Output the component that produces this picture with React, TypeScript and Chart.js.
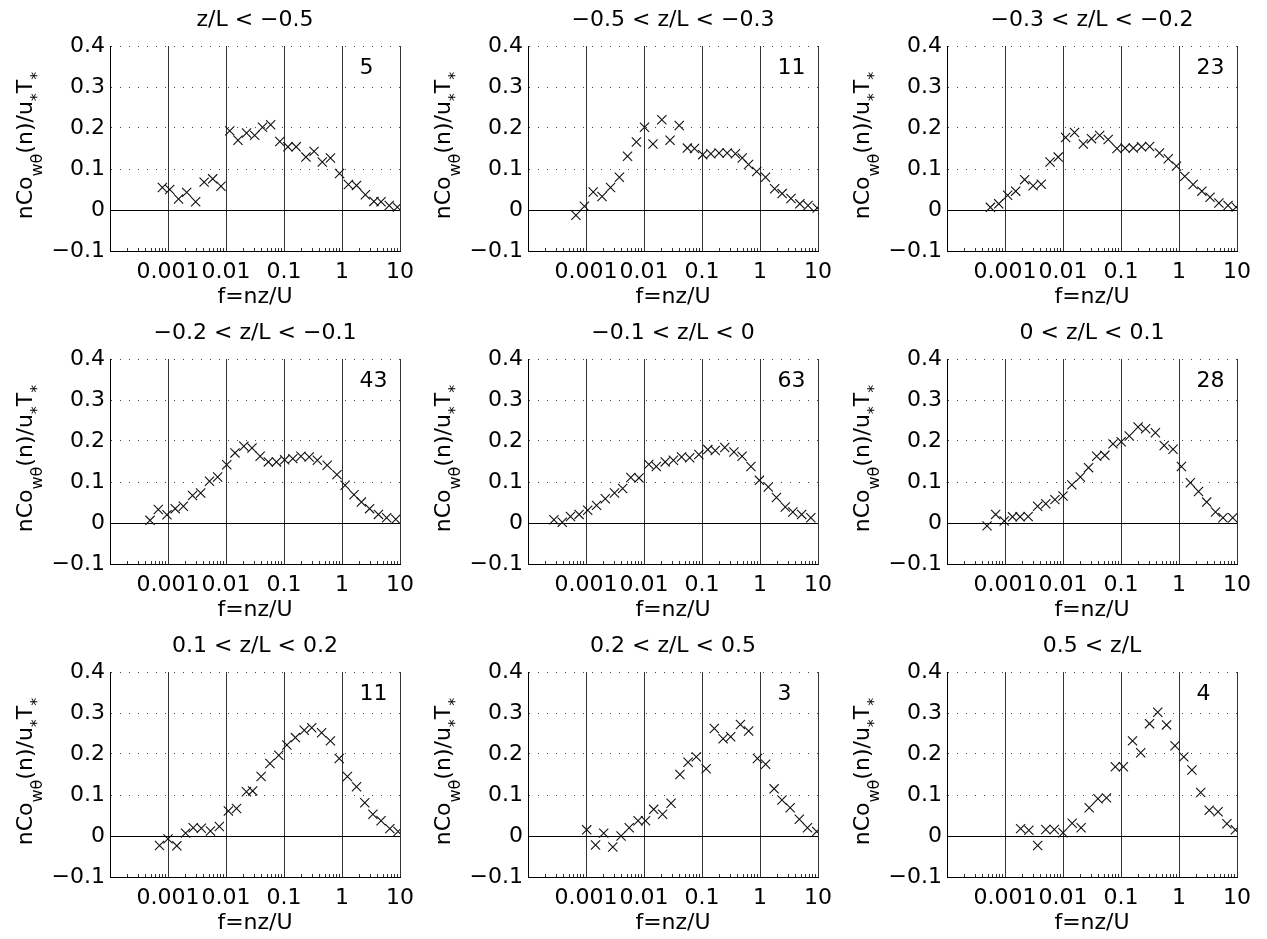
import React, { useEffect, useRef } from "react";
import { Chart, registerables } from "chart.js";

Chart.register(...registerables);

// ---------------- data ----------------
const titles = [
  "z/L < −0.5",
  "−0.5 < z/L < −0.3",
  "−0.3 < z/L < −0.2",
  "−0.2 < z/L < −0.1",
  "−0.1 < z/L < 0",
  "0 < z/L < 0.1",
  "0.1 < z/L < 0.2",
  "0.2 < z/L < 0.5",
  "0.5 < z/L",
];
const counts = [5, 11, 23, 43, 63, 28, 11, 3, 4];

const xTickValues = [0.0001, 0.001, 0.01, 0.1, 1, 10];
const xTickLabels = ["", "0.001", "0.01", "0.1", "1", "10"];
const yTickValues = [-0.1, 0, 0.1, 0.2, 0.3, 0.4];
const yTickLabels = ["−0.1", "0", "0.1", "0.2", "0.3", "0.4"];

const freq1 = [0.0008, 0.00107, 0.00152, 0.0021, 0.003, 0.0042, 0.0059, 0.0082, 0.0116, 0.0161, 0.0226, 0.0312, 0.0426, 0.0589, 0.0847, 0.117, 0.162, 0.239, 0.33, 0.457, 0.632, 0.908, 1.29, 1.78, 2.53, 3.55, 4.71, 6.52, 9.02];
const co1 = [0.055, 0.05, 0.027, 0.043, 0.02, 0.068, 0.076, 0.058, 0.193, 0.17, 0.188, 0.182, 0.202, 0.208, 0.167, 0.154, 0.154, 0.129, 0.143, 0.117, 0.127, 0.089, 0.062, 0.06, 0.037, 0.021, 0.02, 0.011, 0.007];

const freq2 = [0.00067, 0.00094, 0.00133, 0.00189, 0.00265, 0.00376, 0.0052, 0.0074, 0.0102, 0.0143, 0.0203, 0.0281, 0.0405, 0.0559, 0.0743, 0.103, 0.142, 0.197, 0.272, 0.377, 0.494, 0.634, 0.877, 1.245, 1.79, 2.41, 3.42, 4.86, 6.73, 9.67];
const co2 = [-0.013, 0.009, 0.044, 0.033, 0.055, 0.08, 0.131, 0.166, 0.202, 0.161, 0.22, 0.17, 0.206, 0.151, 0.15, 0.135, 0.137, 0.139, 0.139, 0.137, 0.127, 0.111, 0.094, 0.08, 0.052, 0.04, 0.028, 0.015, 0.011, 0.005];

const freq3 = [0.00056, 0.00078, 0.00111, 0.00153, 0.00218, 0.00305, 0.00422, 0.00598, 0.00827, 0.0111, 0.0158, 0.0224, 0.031, 0.0429, 0.0601, 0.0853, 0.118, 0.163, 0.226, 0.312, 0.46, 0.653, 0.904, 1.26, 1.75, 2.48, 3.43, 4.87, 7.0, 9.68];
const co3 = [0.0065, 0.015, 0.036, 0.046, 0.074, 0.059, 0.063, 0.117, 0.129, 0.177, 0.189, 0.161, 0.174, 0.182, 0.172, 0.15, 0.151, 0.151, 0.154, 0.155, 0.139, 0.125, 0.107, 0.082, 0.062, 0.046, 0.031, 0.017, 0.011, 0.007];

const freq4 = [0.00049, 0.00068, 0.00096, 0.00133, 0.00184, 0.00265, 0.00366, 0.00519, 0.00718, 0.0103, 0.0143, 0.0203, 0.0281, 0.0388, 0.0537, 0.0741, 0.1026, 0.142, 0.196, 0.272, 0.376, 0.555, 0.818, 1.13, 1.61, 2.16, 2.99, 4.25, 5.88, 8.45];
const co4 = [0.0065, 0.033, 0.02, 0.035, 0.041, 0.067, 0.073, 0.102, 0.112, 0.142, 0.171, 0.187, 0.183, 0.163, 0.149, 0.149, 0.154, 0.157, 0.163, 0.161, 0.153, 0.141, 0.118, 0.092, 0.069, 0.051, 0.035, 0.021, 0.013, 0.009];

const freq5 = [0.00028, 0.00039, 0.00054, 0.00076, 0.00107, 0.00152, 0.00215, 0.0031, 0.00429, 0.00593, 0.0082, 0.0121, 0.0163, 0.0232, 0.0321, 0.0444, 0.0614, 0.0883, 0.126, 0.169, 0.247, 0.355, 0.491, 0.697, 0.977, 1.39, 1.92, 2.73, 3.68, 5.23, 7.52];
const co5 = [0.008, 0.002, 0.016, 0.021, 0.031, 0.043, 0.059, 0.073, 0.084, 0.111, 0.11, 0.143, 0.138, 0.149, 0.153, 0.161, 0.159, 0.167, 0.179, 0.177, 0.184, 0.173, 0.163, 0.138, 0.104, 0.088, 0.062, 0.039, 0.027, 0.021, 0.013];

const freq6 = [0.00049, 0.00069, 0.00097, 0.00135, 0.00182, 0.00251, 0.00365, 0.00505, 0.00726, 0.01, 0.0142, 0.0199, 0.0276, 0.0381, 0.0527, 0.0728, 0.1007, 0.139, 0.197, 0.266, 0.392, 0.556, 0.789, 1.1, 1.57, 2.17, 3.0, 4.26, 5.73, 8.45];
const co6 = [-0.007, 0.021, 0.005, 0.015, 0.015, 0.016, 0.041, 0.047, 0.057, 0.066, 0.093, 0.112, 0.135, 0.163, 0.165, 0.193, 0.198, 0.212, 0.234, 0.23, 0.22, 0.189, 0.18, 0.138, 0.098, 0.077, 0.051, 0.027, 0.013, 0.013];

const freq7 = [0.000714, 0.001, 0.00142, 0.00201, 0.00272, 0.00376, 0.0054, 0.00767, 0.011, 0.0152, 0.0225, 0.0288, 0.0403, 0.0573, 0.0813, 0.112, 0.157, 0.223, 0.301, 0.445, 0.631, 0.895, 1.24, 1.78, 2.47, 3.41, 4.71, 6.68, 9.25];
const co7 = [-0.023, -0.007, -0.024, 0.007, 0.02, 0.019, 0.012, 0.023, 0.061, 0.067, 0.108, 0.11, 0.145, 0.177, 0.197, 0.222, 0.24, 0.258, 0.264, 0.252, 0.232, 0.189, 0.145, 0.12, 0.081, 0.053, 0.037, 0.018, 0.011];

const freq8 = [0.00103, 0.00146, 0.00202, 0.0029, 0.00402, 0.00556, 0.00789, 0.01064, 0.0147, 0.0209, 0.0293, 0.0416, 0.0575, 0.0796, 0.118, 0.163, 0.231, 0.312, 0.46, 0.637, 0.904, 1.25, 1.75, 2.39, 3.31, 4.76, 6.59, 9.48];
const co8 = [0.015, -0.022, 0.007, -0.027, 0.0, 0.02, 0.037, 0.037, 0.065, 0.053, 0.08, 0.15, 0.18, 0.193, 0.164, 0.262, 0.237, 0.242, 0.272, 0.256, 0.189, 0.175, 0.115, 0.088, 0.069, 0.041, 0.02, 0.011];

const freq9 = [0.00186, 0.00258, 0.00366, 0.00505, 0.00708, 0.01, 0.0144, 0.0205, 0.0283, 0.0401, 0.0562, 0.0798, 0.11, 0.158, 0.219, 0.31, 0.43, 0.61, 0.853, 1.21, 1.67, 2.37, 3.32, 4.72, 6.7, 9.38];
const co9 = [0.018, 0.014, -0.023, 0.016, 0.016, 0.008, 0.031, 0.02, 0.069, 0.091, 0.093, 0.169, 0.169, 0.232, 0.203, 0.274, 0.302, 0.271, 0.22, 0.193, 0.161, 0.106, 0.063, 0.059, 0.03, 0.015];

const freqs = [freq1, freq2, freq3, freq4, freq5, freq6, freq7, freq8, freq9];
const cos = [co1, co2, co3, co4, co5, co6, co7, co8, co9];

// position of the sample-count annotation, in data units
const COUNT_X = 2.0;
const COUNT_Y = 0.346;

// ---------------- layout / style ----------------
const FONT = '"DejaVu Sans", "Liberation Sans", sans-serif';
const FS = 22;
const PLOT_LEFT = [110, 528, 947];
const PLOT_TOP = [46, 359, 672];
const PLOT_W = 296;
const PLOT_H = 205;
const Y_AXIS_W = 110;
const TITLE_H = 46;
const X_AXIS_H = 60;
const RIGHT_PAD = 16;

function drawYTitle(ctx: CanvasRenderingContext2D, baseX: number, cy: number) {
  const runs = [
    { t: "nCo", sub: false },
    { t: "wθ", sub: true },
    { t: "(n)/u", sub: false },
    { t: "*", sub: true },
    { t: "T", sub: false },
    { t: "*", sub: true },
  ];
  const mainFont = `${FS}px ${FONT}`;
  const subFont = `16px ${FONT}`;
  ctx.save();
  let total = 0;
  const widths = runs.map((r) => {
    ctx.font = r.sub ? subFont : mainFont;
    const w = ctx.measureText(r.t).width;
    total += w;
    return w;
  });
  ctx.translate(baseX, cy);
  ctx.rotate(-Math.PI / 2);
  ctx.fillStyle = "#000";
  ctx.textAlign = "left";
  ctx.textBaseline = "alphabetic";
  let x = -total / 2;
  runs.forEach((r, i) => {
    ctx.font = r.sub ? subFont : mainFont;
    ctx.fillText(r.t, x, r.sub ? 10 : 0);
    x += widths[i];
  });
  ctx.restore();
}

function makeDecor(count: number) {
  return {
    id: "decor",
    beforeDatasetsDraw(chart: any) {
      const { ctx, chartArea, scales } = chart;
      const xs = scales.x;
      const ys = scales.y;
      ctx.save();
      // minor log ticks (inward) along the bottom axis
      ctx.strokeStyle = "#333";
      ctx.lineWidth = 1;
      ctx.beginPath();
      for (let k = -4; k <= 0; k++) {
        for (let m = 2; m <= 9; m++) {
          const px = Math.round(xs.getPixelForValue(m * Math.pow(10, k))) + 0.5;
          ctx.moveTo(px, chartArea.bottom);
          ctx.lineTo(px, chartArea.bottom - 3);
        }
      }
      ctx.stroke();
      // zero line
      const y0 = Math.round(ys.getPixelForValue(0)) + 0.5;
      ctx.strokeStyle = "#000";
      ctx.beginPath();
      ctx.moveTo(chartArea.left, y0);
      ctx.lineTo(chartArea.right, y0);
      ctx.stroke();
      ctx.restore();
    },
    afterDraw(chart: any) {
      const { ctx, chartArea, scales } = chart;
      ctx.save();
      ctx.fillStyle = "#000";
      ctx.font = `${FS}px ${FONT}`;
      ctx.textAlign = "left";
      ctx.textBaseline = "middle";
      ctx.fillText(
        String(count),
        scales.x.getPixelForValue(COUNT_X),
        scales.y.getPixelForValue(COUNT_Y)
      );
      ctx.restore();
      drawYTitle(ctx, chartArea.left - 78, (chartArea.top + chartArea.bottom) / 2 - 3);
    },
  };
}

function Panel({ idx }: { idx: number }) {
  const ref = useRef<HTMLCanvasElement | null>(null);
  const col = idx % 3;
  const row = Math.floor(idx / 3);
  const left = PLOT_LEFT[col] - Y_AXIS_W;
  const top = PLOT_TOP[row] - TITLE_H;
  const width = Y_AXIS_W + PLOT_W + RIGHT_PAD;
  const height = TITLE_H + PLOT_H + X_AXIS_H;

  useEffect(() => {
    if (!ref.current) return;
    const font = { family: FONT, size: FS, weight: "normal" as const, lineHeight: 1.2 };
    const f = freqs[idx];
    const c = cos[idx];
    const chart = new Chart(ref.current, {
      type: "scatter",
      data: {
        datasets: [
          {
            data: f.map((x, i) => ({ x, y: c[i] })),
            showLine: false,
            pointStyle: "crossRot",
            pointRadius: 6.5,
            pointHoverRadius: 6.5,
            pointBorderColor: "#111",
            pointBackgroundColor: "rgba(0,0,0,0)",
            pointBorderWidth: 1.1,
          },
        ],
      },
      options: {
        responsive: false,
        animation: false,
        devicePixelRatio: 1,
        events: [],
        layout: { padding: { left: 0, top: 0, right: RIGHT_PAD, bottom: 0 } },
        plugins: {
          legend: { display: false },
          tooltip: { enabled: false },
          title: {
            display: true,
            fullSize: false,
            text: titles[idx],
            color: "#000",
            font,
            padding: { top: 7, bottom: 12.6 },
          },
        },
        scales: {
          x: {
            type: "logarithmic",
            min: 0.0001,
            max: 10,
            afterBuildTicks: (s: any) => {
              s.ticks = xTickValues.map((v) => ({ value: v }));
            },
            afterFit: (s: any) => {
              s.height = X_AXIS_H;
            },
            ticks: {
              autoSkip: false,
              maxRotation: 0,
              minRotation: 0,
              color: "#000",
              font,
              padding: 8,
              callback: (v: any) => {
                const i = xTickValues.findIndex((t) => Math.abs(Math.log10(t) - Math.log10(Number(v))) < 1e-6);
                return i >= 0 ? xTickLabels[i] : "";
              },
            },
            grid: { color: "#333", lineWidth: 1, drawTicks: false },
            border: { display: true, color: "#000", width: 1 },
            title: {
              display: true,
              text: "f=nz/U",
              color: "#000",
              font,
              padding: { top: 0, bottom: 1 },
            },
          },
          y: {
            type: "linear",
            min: -0.1,
            max: 0.4,
            afterBuildTicks: (s: any) => {
              s.ticks = yTickValues.map((v) => ({ value: v }));
            },
            afterFit: (s: any) => {
              s.width = Y_AXIS_W;
            },
            ticks: {
              autoSkip: false,
              color: "#000",
              font,
              padding: 5,
              callback: (v: any) => {
                const i = yTickValues.findIndex((t) => Math.abs(t - Number(v)) < 1e-6);
                return i >= 0 ? yTickLabels[i] : "";
              },
            },
            grid: {
              drawTicks: false,
              lineWidth: 1,
              color: (ctx: any) => {
                const v = ctx.tick ? ctx.tick.value : null;
                if (v !== null && (Math.abs(v) < 1e-9 || Math.abs(v + 0.1) < 1e-9)) return "rgba(0,0,0,0)";
                return "#444";
              },
            },
            border: { display: true, color: "#000", width: 1, dash: [1, 8] },
          },
        },
      } as any,
      plugins: [makeDecor(counts[idx])],
    });
    return () => chart.destroy();
  }, [idx]);

  return (
    <canvas
      ref={ref}
      width={width}
      height={height}
      style={{ position: "absolute", left, top, width, height }}
    />
  );
}

export default function App() {
  return (
    <div
      style={{
        position: "absolute",
        left: 0,
        top: 0,
        width: 1267,
        height: 939,
        overflow: "hidden",
        background: "#fff",
      }}
    >
      {titles.map((_, i) => (
        <Panel key={i} idx={i} />
      ))}
    </div>
  );
}
